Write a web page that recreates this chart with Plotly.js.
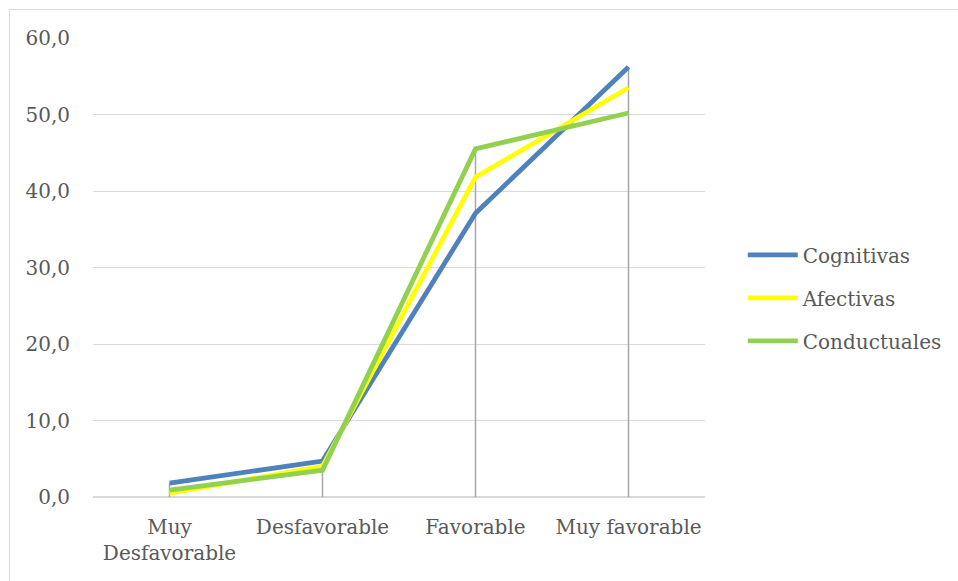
<!DOCTYPE html>
<html>
<head>
<meta charset="utf-8">
<script src="https://cdn.plot.ly/plotly-3.0.1.min.js"></script>
<style>
  html, body { margin: 0; padding: 0; background: #fff; overflow: hidden; }
  #frame { position: absolute; left: 9px; top: 9px; width: 960px; height: 580px; border: 1px solid #d9d9d9; box-sizing: border-box; pointer-events: none; z-index: 5; }
  #chart { position: absolute; left: 0; top: 0; width: 958px; height: 581px; }
</style>
</head>
<body>
<div id="chart"></div>
<div id="frame"></div>
<script>
const categories = ["Muy<br>Desfavorable", "Desfavorable", "Favorable", "Muy favorable"];
const seriesNames = ["Cognitivas", "Afectivas", "Conductuales"];
const cognitivas = [1.8, 4.7, 37.1, 56.2];
const afectivas = [0.5, 4.0, 41.8, 53.5];
const conductuales = [0.9, 3.5, 45.5, 50.2];
const colors = ["#4f81bd", "#ffff00", "#92d050"];
const yTicks = [0, 10, 20, 30, 40, 50, 60];
const yTickText = ["0,0", "10,0", "20,0", "30,0", "40,0", "50,0", "60,0"];

const allSeries = [cognitivas, afectivas, conductuales];
const font = "DejaVu Serif, Liberation Serif, serif";

// drop lines from the highest point of each category down to the axis
const dropX = [], dropY = [];
categories.forEach((c, i) => {
  const m = Math.max(...allSeries.map(s => s[i]));
  dropX.push(c, c, null);
  dropY.push(0, m, null);
});

const traces = [{
  x: dropX, y: dropY, mode: "lines", type: "scatter",
  line: { color: "#a6a6a6", width: 1.5 }, showlegend: false, hoverinfo: "skip"
}];
allSeries.forEach((s, k) => {
  traces.push({
    x: categories, y: s, name: seriesNames[k], type: "scatter", mode: "lines",
    line: { color: colors[k], width: 4.8 }, legendgroup: "g" + k
  });
});

const layout = {
  width: 958, height: 581,
  margin: { l: 93, r: 252, t: 38, b: 84 },
  paper_bgcolor: "#fff", plot_bgcolor: "#fff",
  font: { family: font, size: 20, color: "#595959" },
  xaxis: {
    type: "category", range: [-0.5, 3.5], showgrid: false, zeroline: false,
    showline: false, ticks: "", tickfont: { size: 20, color: "#595959" }, ticklabelstandoff: 16
  },
  yaxis: {
    range: [0, 60], tickvals: yTicks, ticktext: yTickText, showgrid: true,
    gridcolor: "#d9d9d9", gridwidth: 1, zeroline: true, zerolinecolor: "#d9d9d9", zerolinewidth: 1.5,
    showline: false, ticks: "", ticklen: 0, tickfont: { size: 20, color: "#595959" }, ticklabelstandoff: 22
  },
  legend: {
    x: 1.06, xanchor: "left", y: 0.434, yanchor: "middle",
    font: { size: 20, color: "#595959" }, traceorder: "grouped", tracegroupgap: 14,
    itemwidth: 50, bgcolor: "rgba(0,0,0,0)"
  },
  showlegend: true
};

Plotly.newPlot("chart", traces, layout, { displayModeBar: false, staticPlot: true });
</script>
</body>
</html>
